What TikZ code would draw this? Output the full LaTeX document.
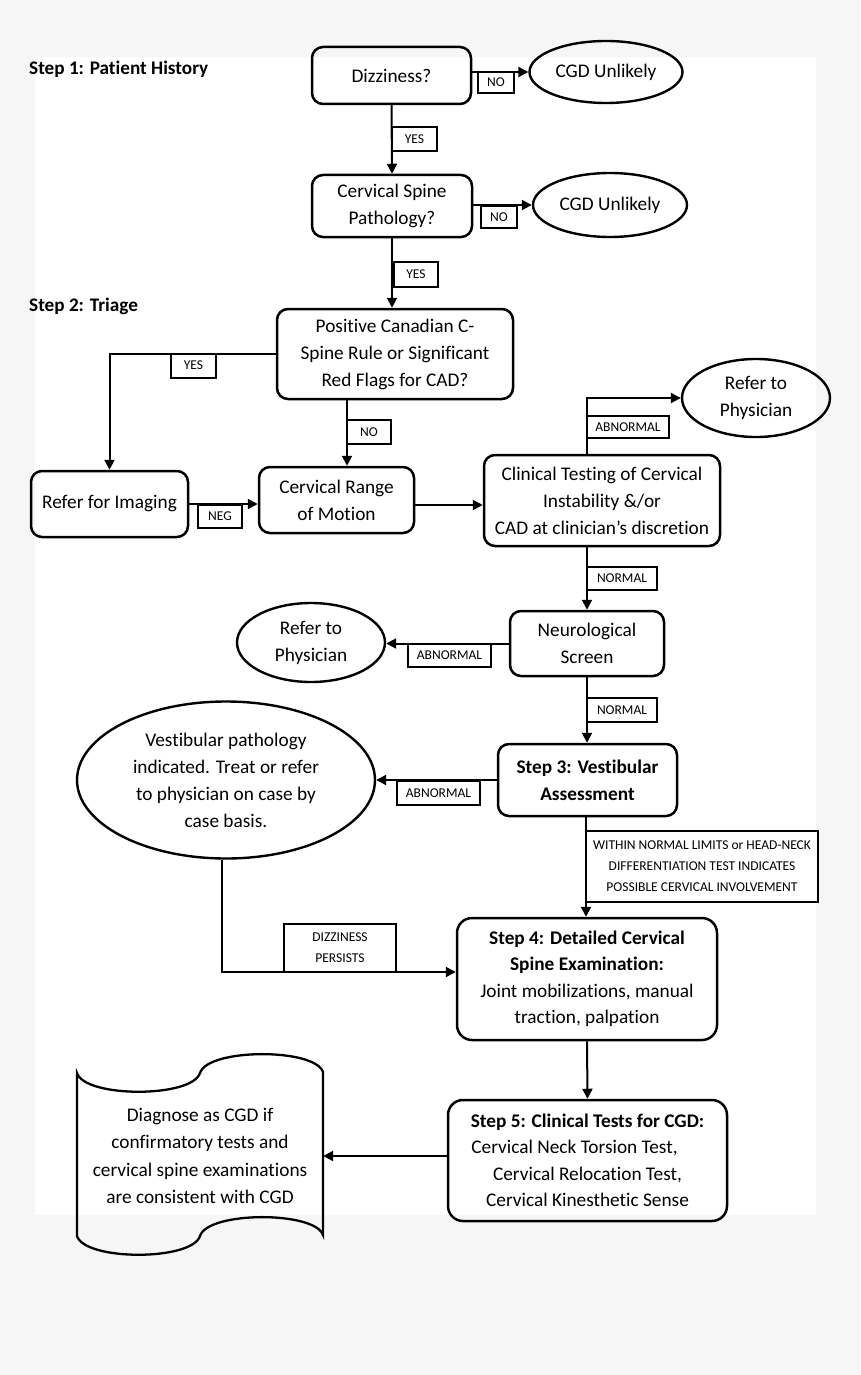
\documentclass[tikz,border=0pt]{standalone}
\usepackage{fontspec}
\setmainfont{Carlito}[Ligatures={NoCommon}]
\usetikzlibrary{shapes.geometric,arrows.meta}
\definecolor{bggray}{HTML}{F6F6F6}
\begin{document}
\begin{tikzpicture}[x=1pt,y=-1pt,
  box/.style={draw, line width=2.5pt, rounded corners=11pt, align=center, inner sep=0pt, font=\fontsize{19.3}{27}\selectfont},
  bigbox/.style={box, rounded corners=15pt, font=\fontsize{19.3}{26.5}\selectfont},
  oval/.style={draw, ellipse, line width=2.4pt, align=center, inner sep=0pt, font=\fontsize{19.3}{27}\selectfont},
  lbl/.style={draw, line width=2pt, fill=white, inner sep=0pt, align=center, font=\fontsize{13.5}{21}\selectfont},
  arr/.style={line width=2pt, -{Triangle[length=10pt,width=10pt]}},
  steptitle/.style={anchor=west, inner sep=0pt, font=\fontsize{19.2}{22}\selectfont\bfseries}
]
% background
\fill[bggray] (0,0) rectangle (860,1375);
\fill[white] (35,57) rectangle (816,1215);
\useasboundingbox (0,0) rectangle (860,1375);

% step titles
\node[steptitle] (s1) at (29,69) {Step 1: Patient History};
\node[steptitle] (s2) at (29,306) {Step 2: Triage};

% main nodes
\node[box, minimum width=159pt, minimum height=57pt] (diz) at (391.5,75.5) {Dizziness?};
\node[oval, minimum width=153pt, minimum height=62pt] (cgd1) at (606,72) {CGD Unlikely};
\node[box, minimum width=160pt, minimum height=62pt] (csp) at (392,206) {Cervical Spine\\Pathology?};
\node[oval, minimum width=154pt, minimum height=64pt] (cgd2) at (610,205) {CGD Unlikely};
\node[box, minimum width=236pt, minimum height=90pt] (pos) at (395,354) {Positive Canadian C-\\Spine Rule or Significant\\Red Flags for CAD?};
\node[box, minimum width=157pt, minimum height=66pt] (img) at (109.5,504) {Refer for Imaging};
\node[box, minimum width=155pt, minimum height=66pt] (crom) at (336.5,500) {Cervical Range\\of Motion};
\node[box, minimum width=236pt, minimum height=91pt] (clin) at (602,500.5) {Clinical Testing of Cervical\\Instability \&/or\\CAD at clinician’s discretion};
\node[oval, minimum width=148pt, minimum height=78pt] (ref1) at (756,398) {Refer to\\Physician};
\node[box, minimum width=154pt, minimum height=65pt] (neuro) at (587,643.5) {Neurological\\Screen};
\node[oval, minimum width=148pt, minimum height=79pt] (ref2) at (311,642.5) {Refer to\\Physician};
\node[box, minimum width=179pt, minimum height=72pt, font=\fontsize{19.3}{27}\selectfont\bfseries] (step3) at (587.5,780) {Step 3: Vestibular\\Assessment};
\node[oval, minimum width=298pt, minimum height=157pt] (vest) at (226,780) {Vestibular pathology\\indicated. Treat or refer\\to physician on case by\\case basis.};
\node[bigbox, minimum width=260pt, minimum height=122pt] (step4) at (587,979) {\textbf{Step 4: Detailed Cervical}\\\textbf{Spine Examination:}\\Joint mobilizations, manual\\traction, palpation};
\node[bigbox, minimum width=279pt, minimum height=121pt] (step5) at (587.5,1160.5) {\textbf{Step 5: Clinical Tests for CGD:}\\Cervical Neck Torsion Test,\rule{26pt}{0pt}\\Cervical Relocation Test,\\Cervical Kinesthetic Sense};

% punched tape
\draw[line width=2.3pt] (77,1073) .. controls (85,1098) and (192,1098) .. (200,1073)
  .. controls (208,1048) and (315,1048) .. (323,1072) -- (323,1235)
  .. controls (315,1211) and (208,1211) .. (200,1236)
  .. controls (192,1261) and (85,1261) .. (77,1236) -- cycle;
\node[align=center, inner sep=0pt, font=\fontsize{19.3}{27.5}\selectfont, minimum width=246pt, minimum height=160pt] (tape) at (200,1156) {Diagnose as CGD if\\confirmatory tests and\\cervical spine examinations\\are consistent with CGD};

% connectors
\draw[arr] (diz.east |- cgd1.west) -- (cgd1.west);
\node[lbl, minimum width=36pt, minimum height=21pt] (l1) at (496,82.5) {NO};
\draw[arr] (diz.south) -- (csp.north);
\node[lbl, minimum width=45pt, minimum height=24pt] (l2) at (414.5,139) {YES};
\draw[arr] (csp.east |- cgd2.west) -- (cgd2.west);
\node[lbl, minimum width=36pt, minimum height=22pt] (l3) at (499,217) {NO};
\draw[arr] (csp.south) -- (csp.south |- pos.north);
\node[lbl, minimum width=44pt, minimum height=25pt] (l4) at (416,274.5) {YES};
\draw[arr] (pos.west) -| (img.north);
\node[lbl, minimum width=45pt, minimum height=24pt] (l5) at (193.5,365.5) {YES};
\draw[arr] ([xshift=-48pt]pos.south) -- ([xshift=-48pt]pos.south |- crom.north);
\node[lbl, minimum width=44pt, minimum height=24pt] (l6) at (369,432) {NO};
\draw[arr] (img.east) -- (img.east -| crom.west);
\node[lbl, minimum width=44pt, minimum height=23pt] (l7) at (220,516.5) {NEG};
\draw[arr] ([yshift=-5pt]crom.east) -- ([yshift=-5pt]crom.east -| clin.west);
\draw[arr] ([xshift=-15pt]clin.north) |- (ref1.west);
\node[lbl, minimum width=82pt, minimum height=22pt] (l8) at (628,427) {ABNORMAL};
\draw[arr] ([xshift=-15pt]clin.south) -- (neuro.north);
\node[lbl, minimum width=70pt, minimum height=23pt] (l9) at (622,578.5) {NORMAL};
\draw[arr] (neuro.west) -- (neuro.west -| ref2.east);
\node[lbl, minimum width=83pt, minimum height=23pt] (l10) at (449.5,655) {ABNORMAL};
\draw[arr] (neuro.south) -- (neuro.south |- step3.north);
\node[lbl, minimum width=70pt, minimum height=24pt] (l11) at (622,710) {NORMAL};
\draw[arr] (step3.west) -- (vest.east |- step3.west);
\node[lbl, minimum width=83pt, minimum height=24pt] (l12) at (438.5,793) {ABNORMAL};
\draw[arr] ([xshift=-1.5pt]step3.south) -- ([xshift=-1.5pt]step3.south |- step4.north);
\node[lbl, minimum width=232pt, minimum height=71pt] (l13) at (702,866.5) {WITHIN NORMAL LIMITS or HEAD-NECK\\DIFFERENTIATION TEST INDICATES\\POSSIBLE CERVICAL INVOLVEMENT};
\draw[arr] ([xshift=-4pt]vest.south) |- ([yshift=7pt]step4.west);
\node[lbl, minimum width=112pt, minimum height=48pt] (l14) at (340,948) {DIZZINESS\\PERSISTS};
\draw[arr] (step4.south) -- (step5.north);
\draw[arr] (step5.west |- tape.east) -- (tape.east);
\end{tikzpicture}
\end{document}
